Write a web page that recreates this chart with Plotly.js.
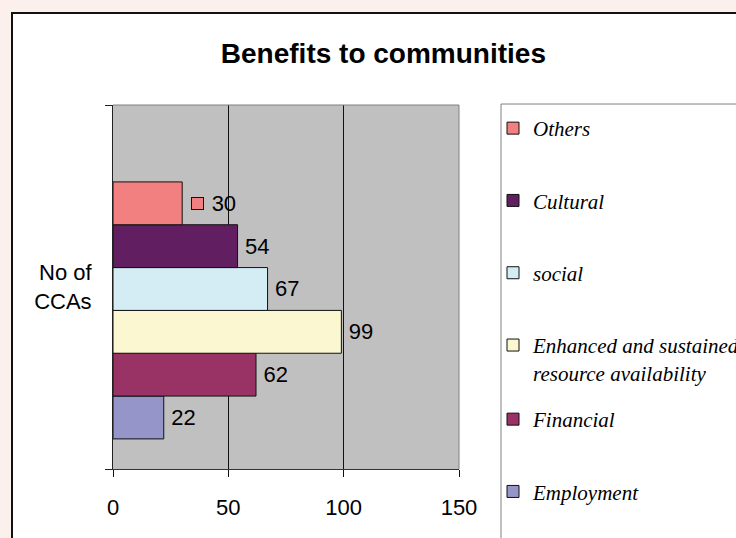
<!DOCTYPE html>
<html><head><meta charset="utf-8">
<script src="https://cdn.plot.ly/plotly-3.0.1.min.js"></script>
<style>
html,body{margin:0;padding:0;overflow:hidden;background:#FBF0EB;width:736px;height:538px;}
#frame{position:absolute;left:11px;top:12px;border-left:2px solid #111;border-top:2px solid #111;background:#fff;}
#chart{width:800px;height:600px;}
</style></head><body>
<div id="frame"><div id="chart"></div></div>
<script>
const chartTitle = 'Benefits to communities';
const category = 'No of<br>CCAs';
// bottom to top
const seriesNames = ['Employment', 'Financial', 'Enhanced and sustained<br>resource availability', 'social', 'Cultural', 'Others'];
const seriesValues = [22, 62, 99, 67, 54, 30];
const seriesColors = ['#9595C9', '#993366', '#FBF7D0', '#D4ECF3', '#611F61', '#F28080'];
const xTickVals = [0, 50, 100, 150];

// group layout (in category units)
const nSeries = seriesNames.length;
const groupW = 0.706;
const groupShift = -0.0643;
const barW = groupW / nSeries;
const groupStart = groupShift - groupW / 2;
const topIdx = nSeries - 1;
const topCenter = groupStart + (topIdx + 0.5) * barW;

const traces = seriesNames.map((name, i) => ({
  type: 'bar', orientation: 'h',
  x: [seriesValues[i]], y: [category],
  name: name,
  width: barW, offset: groupStart + i * barW,
  marker: {color: seriesColors[i], line: {color: '#111', width: 1}},
  texttemplate: (i === topIdx ? '\u2009'.repeat(6) : '\u2009') + '%{x}',
  textposition: 'outside',
  constraintext: 'none',
  cliponaxis: false,
  textfont: {family: 'Arial, Liberation Sans, sans-serif', size: 22, color: '#000'},
  legend: i >= 2 ? 'legend' : 'legend2',
  legendgroup: 'g' + i,
  legendrank: nSeries - i,
  hoverinfo: 'x+name'
}));

const legendCommon = {
  xref: 'paper', yref: 'paper', xanchor: 'left', yanchor: 'top',
  bgcolor: 'rgba(0,0,0,0)', borderwidth: 0,
  font: {family: 'Liberation Serif, Times New Roman, serif', size: 21, style: 'italic', color: '#000'},
  traceorder: 'grouped', tracegroupgap: 42, valign: 'top',
  itemclick: false, itemdoubleclick: false
};

const layout = {
  width: 800, height: 600,
  margin: {l: 100, r: 354, t: 91, b: 145, pad: 0},
  paper_bgcolor: '#fff', plot_bgcolor: '#C0C0C0',
  title: {text: '<b>' + chartTitle + '</b>', xref: 'container', yref: 'container', x: 0.463, y: 0.935,
    xanchor: 'center', yanchor: 'middle',
    font: {family: 'Arial, Liberation Sans, sans-serif', size: 28, color: '#000'}},
  barmode: 'overlay',
  showlegend: true,
  xaxis: {range: [0, 150], tickvals: xTickVals, ticks: 'outside', ticklen: 7, tickcolor: '#111',
    showgrid: true, gridcolor: '#111', gridwidth: 1, zeroline: false,
    showline: true, linecolor: '#333', linewidth: 1, ticklabelstandoff: 12,
    tickfont: {family: 'Arial, Liberation Sans, sans-serif', size: 22, color: '#000'}, fixedrange: true},
  yaxis: {type: 'category', range: [-0.5, 0.5], tickson: 'boundaries', ticks: 'outside', ticklen: 7,
    tickcolor: '#222', showgrid: false, zeroline: false, showline: true, linecolor: '#222', linewidth: 1,
    ticklabelstandoff: 16,
    tickfont: {family: 'Arial, Liberation Sans, sans-serif', size: 22, color: '#000'}, fixedrange: true},
  legend: Object.assign({x: 1.0983, y: 0.9918}, legendCommon),
  legend2: Object.assign({x: 1.0983, y: 0.1923}, legendCommon),
  shapes: [
    {type: 'line', xref: 'paper', yref: 'paper', x0: 0, x1: 1, y0: 1, y1: 1, line: {color: '#808080', width: 1}, layer: 'above'},
    {type: 'line', xref: 'paper', yref: 'paper', x0: 1, x1: 1, y0: 0, y1: 1, line: {color: '#808080', width: 1}, layer: 'above'},
    {type: 'rect', xref: 'paper', yref: 'paper', x0: 1.1214, x1: 3, y0: -1, y1: 1.0027,
      line: {color: '#808080', width: 1}, fillcolor: '#fff', layer: 'below'}
  ],
  annotations: [
    {xref: 'x', yref: 'y', x: seriesValues[topIdx], y: topCenter, xanchor: 'left', yanchor: 'middle',
      xshift: 9, text: '\u00a0', font: {size: 6}, width: 11, height: 11, borderpad: 0, borderwidth: 1,
      bordercolor: '#111', bgcolor: seriesColors[topIdx], showarrow: false}
  ]
};

Plotly.newPlot('chart', traces, layout, {displayModeBar: false});
</script>
</body></html>
